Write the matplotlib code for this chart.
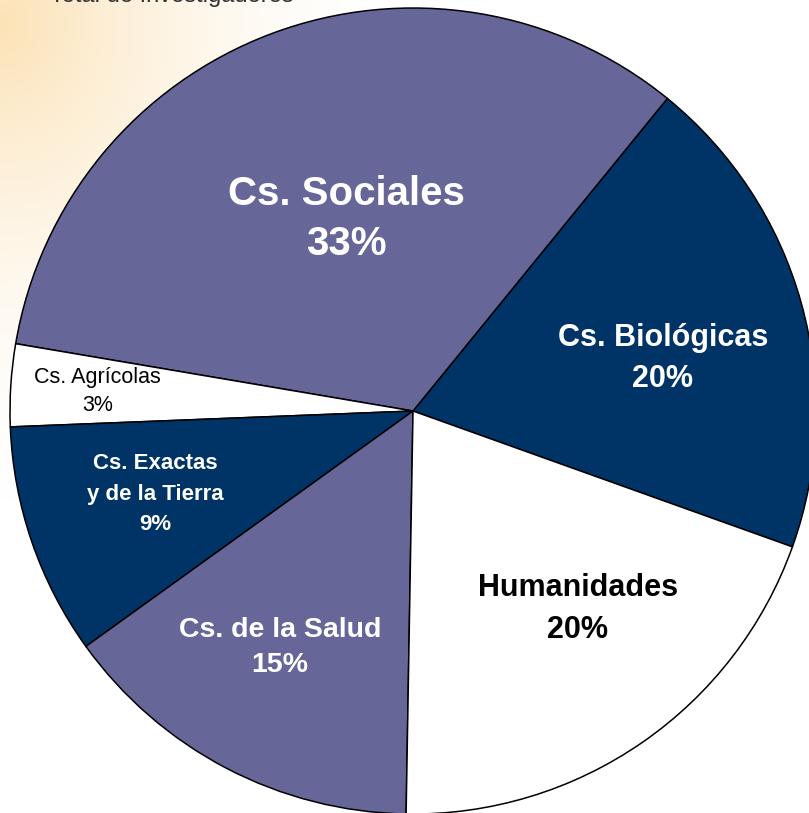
import numpy as np
import matplotlib.pyplot as plt

# areas, counterclockwise from the right-hand side
areas = ['Cs. Biológicas', 'Cs. Sociales', 'Cs. Agrícolas',
         'Cs. Exactas\ny de la Tierra', 'Cs. de la Salud', 'Humanidades']
shares = [19.6, 33.2, 3.3, 9.3, 14.8, 19.8]
colors = ['#003366', '#666699', '#ffffff', '#003366', '#666699', '#ffffff']

if __name__ == '__main__':

    fig = plt.figure(figsize=(8.09, 8.13), dpi=100)
    ax = fig.add_axes([0, 0, 1, 1])
    x0, x1, y0, y1 = -1.0248, 0.9826, -0.9975, 1.0199

    # orange slide background fading out from the top-left corner
    xx, yy = np.meshgrid(np.linspace(0, 809, 200), np.linspace(0, 813, 200))
    d = np.sqrt((xx / 400.0) ** 2 + ((yy - 20) / 480.0) ** 2)
    w = np.clip(1 - d, 0, 1) ** 1.8
    peak = np.array([252, 226, 182]) / 255.0
    img = np.ones((200, 200, 3)) * (1 - w[..., None]) + peak * w[..., None]
    ax.imshow(img, extent=(x0, x1, y0, y1), origin='upper', aspect='auto', zorder=0)

    # title of the slide, cut off by the top edge
    ax.text(-0.90, 1.0155, 'Total de Investigadores', fontsize=17, color='#333333',
            family='Liberation Sans', ha='left', va='top', zorder=1,
            transform=ax.transData).set_va('baseline')

    wedges, _ = ax.pie(shares, colors=colors, startangle=-19.7, counterclock=True,
                       radius=1.0, center=(0, 0), frame=True,
                       wedgeprops=dict(edgecolor='black', linewidth=1.1))
    for wdg in wedges:
        wdg.set_zorder(2)
    ax.axis('off')
    ax.set_xlim(x0, x1)
    ax.set_ylim(y0, y1)

    # label positions, size, weight and colour per wedge
    pos = [(0.620, 0.130), (-0.166, 0.476), (-0.782, 0.048),
           (-0.640, -0.206), (-0.330, -0.588), (0.409, -0.491)]
    sizes = [22, 29, 15.5, 16, 20.5, 22]
    weights = ['bold', 'bold', 'normal', 'bold', 'bold', 'bold']
    tcolors = ['white', 'white', 'black', 'white', 'white', 'black']
    spacing = [1.5, 1.4, 1.4, 1.6, 1.45, 1.5]

    for name, val, (x, y), s, fw, c, ls in zip(areas, shares, pos, sizes, weights,
                                               tcolors, spacing):
        ax.text(x, y, '%s\n%.0f%%' % (name, val), fontsize=s, fontweight=fw, color=c,
                family='Liberation Sans', ha='center', va='center',
                linespacing=ls, zorder=3)

    fig.savefig('out.png', dpi=100)
